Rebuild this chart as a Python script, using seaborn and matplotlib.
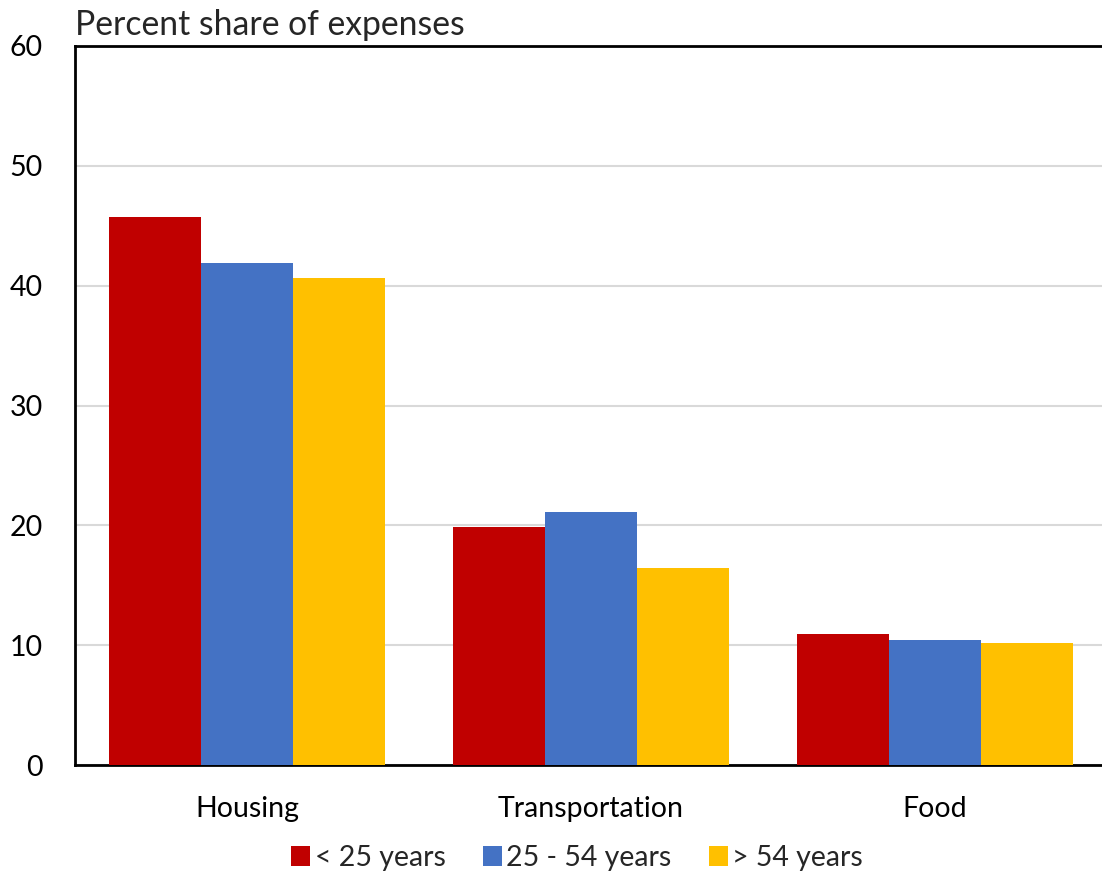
import matplotlib
matplotlib.use("Agg")
import matplotlib.pyplot as plt
import seaborn as sns
import pandas as pd

categories = ["Housing", "Transportation", "Food"]
groups = ["< 25 years", "25 - 54 years", "> 54 years"]
under_25 = [45.7, 19.9, 10.9]
age_25_54 = [41.9, 21.1, 10.4]
over_54 = [40.6, 16.4, 10.2]
colors = ["#C00000", "#4472C4", "#FFC000"]

rows = []
for grp, vals in zip(groups, [under_25, age_25_54, over_54]):
    for cat, v in zip(categories, vals):
        rows.append({"category": cat, "group": grp, "value": v})
df = pd.DataFrame(rows)

sns.set_theme(style="white")
plt.rcParams["font.family"] = ["Lato", "DejaVu Sans"]

W, H = 1102, 876
fig = plt.figure(figsize=(W / 100, H / 100), dpi=100)
ax = fig.add_axes([75 / W, (H - 765) / H, 1032 / W, 719 / H])

sns.barplot(data=df, x="category", y="value", hue="group", order=categories,
            hue_order=groups, palette=colors, width=0.8, saturation=1,
            edgecolor="none", linewidth=0, ax=ax, legend=True, zorder=3)

ax.set_ylim(0, 60)
ax.set_xlim(-0.5, 2.5)
ax.set_yticks(range(0, 61, 10))
ax.yaxis.grid(True, color="#d9d9d9", linewidth=1.5, zorder=0)
ax.set_axisbelow(True)
ax.set_xlabel("")
ax.set_ylabel("")
ax.tick_params(axis="both", length=0, labelsize=20.5, colors="black")
ax.tick_params(axis="y", pad=23)
ax.tick_params(axis="x", pad=22)

for side in ["left", "top", "bottom"]:
    ax.spines[side].set_color("black")
    ax.spines[side].set_linewidth(2)
    ax.spines[side].set_visible(True)
ax.spines["right"].set_visible(False)

fig.text(75 / W, 1 - 25 / H, "Percent share of expenses", fontsize=24.3,
         ha="left", va="center")

handles, labels = ax.get_legend_handles_labels()
ax.legend_.remove()
fig.legend(handles, labels, loc="center", bbox_to_anchor=(577 / W, 1 - 858 / H),
           ncol=3, frameon=False, fontsize=20.5, handlelength=0.68,
           handleheight=0.68, handletextpad=0.15, columnspacing=1.3)

fig.savefig("out.png", dpi=100)
